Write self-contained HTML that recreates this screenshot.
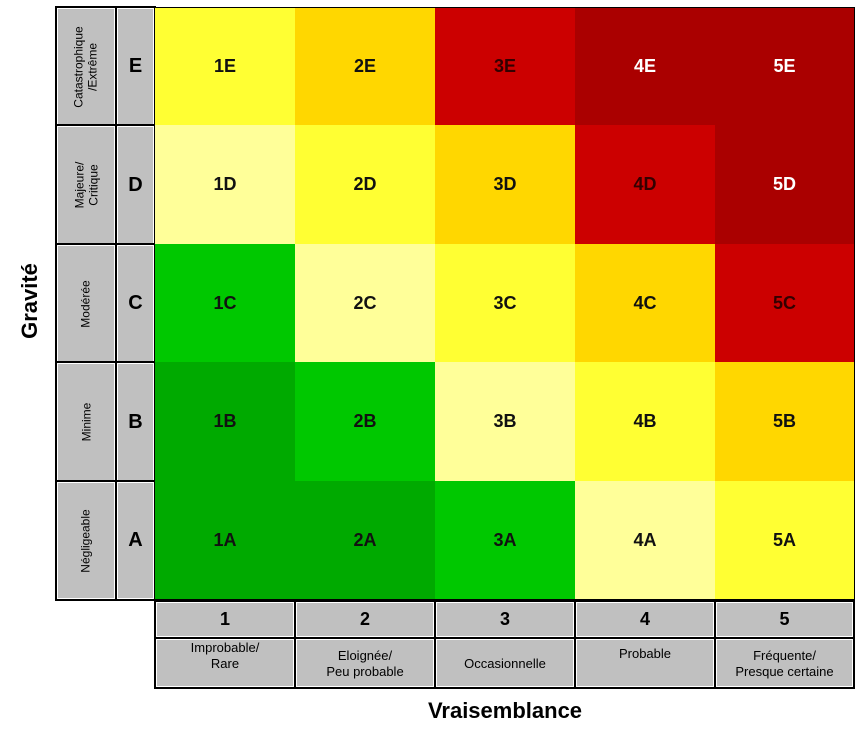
<!DOCTYPE html>
<html><head><meta charset="utf-8"><style>
body{margin:0;width:864px;height:731px;background:#fff;position:relative;overflow:hidden;font-family:"Liberation Sans",sans-serif}
.g{position:absolute;background:#c0c0c0;box-sizing:border-box;border:1px solid #fff;outline:2px solid #000;display:flex;align-items:center;justify-content:center;text-align:center;color:#000}
.c{position:absolute;display:flex;align-items:center;justify-content:center;font-weight:bold;font-size:18px;color:#111}
.rot{transform:rotate(-90deg);white-space:nowrap;font-size:12px;line-height:14px}
.L{font-weight:bold;font-size:20px}
.d{font-size:13px;line-height:16px;align-items:flex-start;padding-top:2px}
</style></head><body>
<div style="position:absolute;left:-20px;top:288px;width:100px;text-align:center;transform:rotate(-90deg);font-weight:bold;font-size:22px">Gravité</div>
<div style="position:absolute;left:355px;top:698px;width:300px;text-align:center;font-weight:bold;font-size:22px">Vraisemblance</div>
<div style="position:absolute;left:56px;top:7px;width:799px;height:594px;border:2px solid #000;box-sizing:border-box"></div>

<div class="g" style="left:57px;top:8px;width:58px;height:117px"><div class="rot">Catastrophique<br>/Extrême</div></div>
<div class="g" style="left:57px;top:126px;width:58px;height:118px"><div class="rot">Majeure/<br>Critique</div></div>
<div class="g" style="left:57px;top:245px;width:58px;height:117px"><div class="rot">Modérée</div></div>
<div class="g" style="left:57px;top:363px;width:58px;height:118px"><div class="rot">Minime</div></div>
<div class="g" style="left:57px;top:482px;width:58px;height:117px"><div class="rot">Négligeable</div></div>

<div class="g L" style="left:117px;top:8px;width:37px;height:117px">E</div>
<div class="g L" style="left:117px;top:126px;width:37px;height:118px">D</div>
<div class="g L" style="left:117px;top:245px;width:37px;height:117px">C</div>
<div class="g L" style="left:117px;top:363px;width:37px;height:118px">B</div>
<div class="g L" style="left:117px;top:482px;width:37px;height:117px">A</div>

<!-- E -->
<div class="c" style="left:155px;top:8px;width:140px;height:117px;background:#ffff33">1E</div>
<div class="c" style="left:295px;top:8px;width:140px;height:117px;background:#ffd700">2E</div>
<div class="c" style="left:435px;top:8px;width:140px;height:117px;background:#cc0000;color:#300">3E</div>
<div class="c" style="left:575px;top:8px;width:140px;height:117px;background:#aa0000;color:#fff">4E</div>
<div class="c" style="left:715px;top:8px;width:139px;height:117px;background:#aa0000;color:#fff">5E</div>
<!-- D -->
<div class="c" style="left:155px;top:125px;width:140px;height:119px;background:#ffff99">1D</div>
<div class="c" style="left:295px;top:125px;width:140px;height:119px;background:#ffff33">2D</div>
<div class="c" style="left:435px;top:125px;width:140px;height:119px;background:#ffd700">3D</div>
<div class="c" style="left:575px;top:125px;width:140px;height:119px;background:#cc0000;color:#300">4D</div>
<div class="c" style="left:715px;top:125px;width:139px;height:119px;background:#aa0000;color:#fff">5D</div>
<!-- C -->
<div class="c" style="left:155px;top:244px;width:140px;height:118px;background:#00c800">1C</div>
<div class="c" style="left:295px;top:244px;width:140px;height:118px;background:#ffff99">2C</div>
<div class="c" style="left:435px;top:244px;width:140px;height:118px;background:#ffff33">3C</div>
<div class="c" style="left:575px;top:244px;width:140px;height:118px;background:#ffd700">4C</div>
<div class="c" style="left:715px;top:244px;width:139px;height:118px;background:#cc0000;color:#300">5C</div>
<!-- B -->
<div class="c" style="left:155px;top:362px;width:140px;height:119px;background:#00aa00">1B</div>
<div class="c" style="left:295px;top:362px;width:140px;height:119px;background:#00c800">2B</div>
<div class="c" style="left:435px;top:362px;width:140px;height:119px;background:#ffff99">3B</div>
<div class="c" style="left:575px;top:362px;width:140px;height:119px;background:#ffff33">4B</div>
<div class="c" style="left:715px;top:362px;width:139px;height:119px;background:#ffd700">5B</div>
<!-- A -->
<div class="c" style="left:155px;top:481px;width:140px;height:118px;background:#00aa00">1A</div>
<div class="c" style="left:295px;top:481px;width:140px;height:118px;background:#00aa00">2A</div>
<div class="c" style="left:435px;top:481px;width:140px;height:118px;background:#00c800">3A</div>
<div class="c" style="left:575px;top:481px;width:140px;height:118px;background:#ffff99">4A</div>
<div class="c" style="left:715px;top:481px;width:139px;height:118px;background:#ffff33">5A</div>

<div class="g L" style="left:156px;top:602px;width:138px;height:35px;font-size:18px">1</div>
<div class="g L" style="left:296px;top:602px;width:138px;height:35px;font-size:18px">2</div>
<div class="g L" style="left:436px;top:602px;width:138px;height:35px;font-size:18px">3</div>
<div class="g L" style="left:576px;top:602px;width:138px;height:35px;font-size:18px">4</div>
<div class="g L" style="left:716px;top:602px;width:137px;height:35px;font-size:18px">5</div>

<div class="g d" style="left:156px;top:639px;width:138px;height:48px;padding-top:0">Improbable/<br>Rare</div>
<div class="g d" style="left:296px;top:639px;width:138px;height:48px;align-items:center">Eloignée/<br>Peu probable</div>
<div class="g d" style="left:436px;top:639px;width:138px;height:48px;align-items:center">Occasionnelle</div>
<div class="g d" style="left:576px;top:639px;width:138px;height:48px;padding-top:6px">Probable</div>
<div class="g d" style="left:716px;top:639px;width:137px;height:48px;align-items:center">Fréquente/<br>Presque certaine</div>
</body></html>
